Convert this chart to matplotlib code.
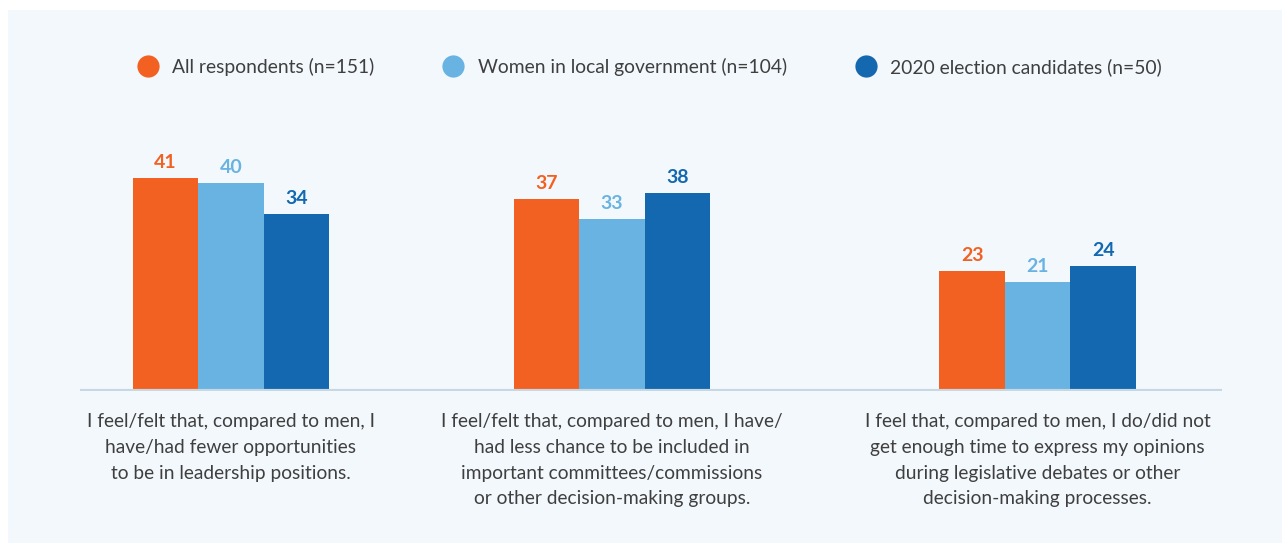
import numpy as np
import matplotlib
matplotlib.use("Agg")
import matplotlib.pyplot as plt
from matplotlib.lines import Line2D
from matplotlib.patches import Rectangle

plt.rcParams["font.family"] = ["Lato", "DejaVu Sans"]

# survey results, percent agreeing
series = ["All respondents (n=151)",
          "Women in local government (n=104)",
          "2020 election candidates (n=50)"]
all_resp = [41, 37, 23]
women_lg = [40, 33, 21]
candidates = [34, 38, 24]
statements = [
    "I feel/felt that, compared to men, I\nhave/had fewer opportunities\nto be in leadership positions.",
    "I feel/felt that, compared to men, I have/\nhad less chance to be included in\nimportant committees/commissions\nor other decision-making groups.",
    "I feel that, compared to men, I do/did not\nget enough time to express my opinions\nduring legislative debates or other\ndecision-making processes.",
]

colors = ["#F26122", "#69B3E3", "#1368AF"]
text_col = "#3f3f3f"
panel_col = "#F3F8FC"

fig = plt.figure(figsize=(12.82, 5.43), dpi=100)
fig.patch.set_facecolor("white")
fig.patches.append(Rectangle((8 / 1282, 0), 1, 1 - 10 / 543, transform=fig.transFigure,
                             facecolor=panel_col, edgecolor="none", zorder=-5))

ax = fig.add_axes([80 / 1282, 1 - 391 / 543, 1142 / 1282, 260 / 543])
ax.set_facecolor("none")
ax.set_zorder(2)

group_x = np.array([0, 1, 2.117])
width = 0.172
offsets = [-width, 0, width]

for vals, off, col in zip([all_resp, women_lg, candidates], offsets, colors):
    bars = ax.bar(group_x + off, vals, width=width, color=col, zorder=2)
    for b, v in zip(bars, vals):
        ax.annotate(str(v), (b.get_x() + b.get_width() / 2, v), xytext=(0, 5),
                    textcoords="offset points", ha="center", va="bottom",
                    color=col, fontsize=14, fontweight="bold")

ax.axhline(0, color="#C8D8E2", lw=3, zorder=3)
ax.set_xlim(-0.396, 2.601)
ax.set_ylim(0, 50)
for s in ax.spines.values():
    s.set_visible(False)
ax.set_xticks([])
ax.set_yticks([])

for x, s in zip(group_x, statements):
    ax.annotate(s, (x, 0), xytext=(0, -16), textcoords="offset points",
                ha="center", va="top", color=text_col, fontsize=13.8,
                linespacing=1.62)

handles = [Line2D([], [], marker="o", linestyle="none", markersize=16,
                  markerfacecolor=c, markeredgecolor="none") for c in colors]
fig.legend(handles, series, loc="center", bbox_to_anchor=(650 / 1282, 1 - 67 / 543),
           ncol=3, frameon=False, fontsize=13.9, labelcolor=text_col,
           handletextpad=0.75, columnspacing=3.6, handlelength=1.0)

fig.savefig("out.png", dpi=100, facecolor=fig.get_facecolor())
